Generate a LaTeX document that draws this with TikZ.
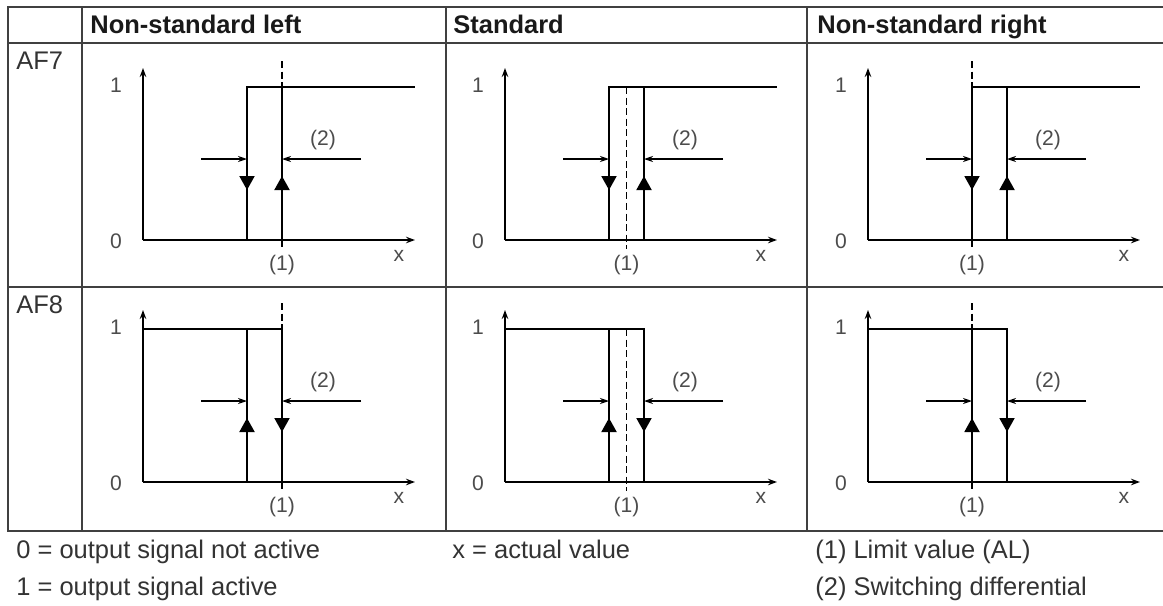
\documentclass[tikz,border=0pt]{standalone}
\usepackage{fontspec}
\setmainfont{Liberation Sans}
\usetikzlibrary{arrows.meta}

\begin{document}
\begin{tikzpicture}[x=0.2mm, y=-0.2mm,
   grid/.style={line width=1.4pt, black!75},
   hdr/.style={font=\fontsize{14.5}{16}\selectfont\bfseries, text=black!90,
               anchor=base west, inner sep=0},
   note/.style={font=\fontsize{14.5}{16}\selectfont, text=black!80,
                anchor=base west, inner sep=0},
   lbl/.style={font=\fontsize{12}{14}\selectfont, text=black!70, inner sep=0},
   axisline/.style={line width=1.1pt, -{Stealth[length=1.8mm,width=1.3mm]}},
   loopline/.style={line width=1.1pt},
   limit/.style={line width=1.1pt, dash pattern=on 4pt off 2pt},
   gap/.style={line width=0.8pt, -{Stealth[length=1.8mm,width=1.2mm]}},
   tri/.style={line width=1.1pt, -{Triangle[length=2.8mm,width=3mm]}}]
  \useasboundingbox (0,0) rectangle (1163,605);

  \draw[grid] (1163,7) -- (8,7) -- (8,531) -- (1163,531);
  \draw[grid] (8,43) -- (1163,43);
  \draw[grid] (8,287) -- (1163,287);
  \foreach \gx in {82,446,807}
    \draw[grid] (\gx,7) -- (\gx,531);

  \node[hdr] (hleft) at (90,33) {Non-standard left};
  \node[hdr] (hstd) at (453,33) {Standard};
  \node[hdr] (hright) at (817,33) {Non-standard right};
  \node[note, anchor=west] (af7) at (16,61) {AF7};
  \node[note, anchor=west] (af8) at (16,305) {AF8};

  \foreach \col/\px/\lx/\ltop in {1/143/139/179, 2/505/121.5/153, 3/868/104/179}
    \foreach \row/\py in {7/240, 8/482} {
      \pgfmathsetmacro\xa{\px+104}
      \pgfmathsetmacro\xb{\px+139}
      \pgfmathsetmacro\xl{\px+\lx}
      \pgfmathsetmacro\yh{\py-153}
      \draw[limit] (\xl,\py-\ltop) -- (\xl,\py+9);
      \draw[axisline] (\px,\py) -- (\px,\py-172);
      \draw[axisline] (\px,\py) -- (\px+272,\py);
      \ifnum\row=7\relax
        \draw[loopline] (\xa,\py) -- (\xa,\yh) -- (\px+272,\yh);
        \draw[loopline] (\xb,\yh) -- (\xb,\py);
        \draw[tri] (\xa,\yh) -- (\xa,\py-50);
        \draw[tri] (\xb,\py) -- (\xb,\py-64);
      \else
        \draw[loopline] (\px,\yh) -- (\xb,\yh) -- (\xb,\py);
        \draw[loopline] (\xa,\yh) -- (\xa,\py);
        \draw[tri] (\xa,\py) -- (\xa,\py-64);
        \draw[tri] (\xb,\yh) -- (\xb,\py-50);
      \fi
      \draw[gap] (\px+58,\py-81) -- (\xa,\py-81);
      \draw[gap] (\px+218,\py-81) -- (\xb,\py-81);
      \node[lbl] (one\col\row) at (\px-27,\yh-2) {1};
      \node[lbl] (zero\col\row) at (\px-27,\py+1) {0};
      \node[lbl] (xval\col\row) at (\px+256,\py+16) {x};
      \node[lbl] (lim\col\row) at (\xl,\py+25) {(1)};
      \node[lbl] (diff\col\row) at (\px+180,\py-100) {(2)};
    }

  \node[note] (leg0) at (16,558) {0 = output signal not active};
  \node[note] (leg1) at (16,595) {1 = output signal active};
  \node[note] (legx) at (452,558) {x = actual value};
  \node[note] (legal) at (815,558) {(1) Limit value (AL)};
  \node[note] (legsd) at (815,595) {(2) Switching differential};
\end{tikzpicture}
\end{document}
